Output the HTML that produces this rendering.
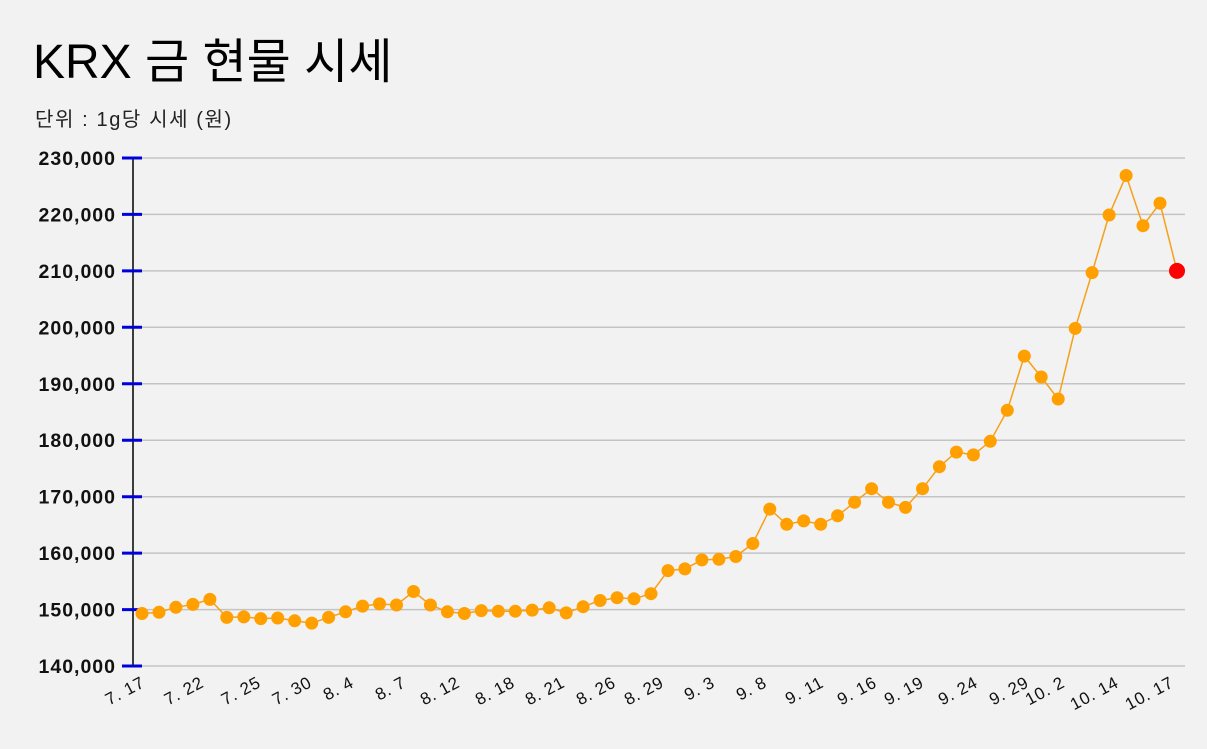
<!DOCTYPE html>
<html><head><meta charset="utf-8"><style>
html,body{margin:0;padding:0;background:#f2f2f2;}
svg{display:block;}
text{font-family:"Liberation Sans","Noto Sans CJK KR",sans-serif;}
</style></head><body>
<svg width="1207" height="749" xmlns="http://www.w3.org/2000/svg">
<rect width="1207" height="749" fill="#f2f2f2"/>
<text x="33" y="78" font-size="48" fill="#000">KRX 금 현물 시세</text>
<text x="35" y="126" font-size="20" letter-spacing="1.6" fill="#222">단위 : 1g당 시세 (원)</text>
<g stroke="#c4c4c4" stroke-width="1.5">
<line x1="133" x2="1185" y1="158" y2="158"/><line x1="133" x2="1185" y1="214.4" y2="214.4"/>
<line x1="133" x2="1185" y1="270.9" y2="270.9"/><line x1="133" x2="1185" y1="327.3" y2="327.3"/>
<line x1="133" x2="1185" y1="383.8" y2="383.8"/><line x1="133" x2="1185" y1="440.2" y2="440.2"/>
<line x1="133" x2="1185" y1="496.7" y2="496.7"/><line x1="133" x2="1185" y1="553.1" y2="553.1"/>
<line x1="133" x2="1185" y1="609.6" y2="609.6"/><line x1="133" x2="1185" y1="666" y2="666"/>
</g>
<line x1="133" x2="133" y1="158" y2="666" stroke="#000" stroke-width="1.5"/>
<g stroke="#0000dd" stroke-width="3">
<line x1="122" x2="142" y1="158" y2="158"/><line x1="122" x2="142" y1="214.4" y2="214.4"/>
<line x1="122" x2="142" y1="270.9" y2="270.9"/><line x1="122" x2="142" y1="327.3" y2="327.3"/>
<line x1="122" x2="142" y1="383.8" y2="383.8"/><line x1="122" x2="142" y1="440.2" y2="440.2"/>
<line x1="122" x2="142" y1="496.7" y2="496.7"/><line x1="122" x2="142" y1="553.1" y2="553.1"/>
<line x1="122" x2="142" y1="609.6" y2="609.6"/><line x1="122" x2="142" y1="666" y2="666"/>
</g>
<g font-size="19.5" font-weight="bold" text-anchor="end" fill="#111" letter-spacing="1">
<text x="116" y="165">230,000</text><text x="116" y="221.4">220,000</text>
<text x="116" y="277.9">210,000</text><text x="116" y="334.3">200,000</text>
<text x="116" y="390.8">190,000</text><text x="116" y="447.2">180,000</text>
<text x="116" y="503.7">170,000</text><text x="116" y="560.1">160,000</text>
<text x="116" y="616.6">150,000</text><text x="116" y="673">140,000</text>
</g>
<g font-size="17" text-anchor="end" fill="#111" letter-spacing="0.8">
<text transform="translate(146,686) rotate(-28)">7. 17</text>
<text transform="translate(205,686) rotate(-28)">7. 22</text>
<text transform="translate(262,686) rotate(-28)">7. 25</text>
<text transform="translate(313,686) rotate(-28)">7. 30</text>
<text transform="translate(355,686) rotate(-28)">8. 4</text>
<text transform="translate(407,686) rotate(-28)">8. 7</text>
<text transform="translate(461,686) rotate(-28)">8. 12</text>
<text transform="translate(516,686) rotate(-28)">8. 18</text>
<text transform="translate(566,686) rotate(-28)">8. 21</text>
<text transform="translate(617,686) rotate(-28)">8. 26</text>
<text transform="translate(665,686) rotate(-28)">8. 29</text>
<text transform="translate(716,686) rotate(-28)">9. 3</text>
<text transform="translate(768,686) rotate(-28)">9. 8</text>
<text transform="translate(825,686) rotate(-28)">9. 11</text>
<text transform="translate(878,686) rotate(-28)">9. 16</text>
<text transform="translate(925,686) rotate(-28)">9. 19</text>
<text transform="translate(979,686) rotate(-28)">9. 24</text>
<text transform="translate(1030,686) rotate(-28)">9. 29</text>
<text transform="translate(1066,686) rotate(-28)">10. 2</text>
<text transform="translate(1120,686) rotate(-28)">10. 14</text>
<text transform="translate(1175,686) rotate(-28)">10. 17</text>
</g>
<polyline fill="none" stroke="#f5a01a" stroke-width="1.5" points="142,613.5 159,612.3 175.9,607.3 192.9,604.4 209.9,599.4 226.8,617.4 243.8,616.9 260.8,618.6 277.7,618 294.7,620.8 311.7,623.1 328.6,617.4 345.6,611.8 362.6,606.1 379.5,603.9 396.5,605 413.5,591.5 430.4,605 447.4,611.8 464.4,613.5 481.3,610.6 498.3,611.2 515.3,611.2 532.2,610.1 549.2,607.8 566.2,612.9 583.1,606.7 600.1,600.5 617.1,597.7 634,598.8 651,593.7 668,570.6 684.9,568.9 701.9,559.9 718.9,559.3 735.8,556.5 752.8,543.5 769.8,509.1 786.7,524.3 803.7,520.9 820.7,524.3 837.6,515.8 854.6,502.3 871.6,488.7 888.5,502.3 905.5,507.4 922.5,488.7 939.4,466.7 956.4,452.1 973.4,454.9 990.3,441.3 1007.3,410.3 1024.3,356.1 1041.2,377 1058.2,399 1075.2,328.4 1092.1,272.6 1109.1,215 1126.1,175.5 1143,225.7 1160,203.2 1177,270.9"/>
<g fill="#ff9f00">
<circle cx="142" cy="613.5" r="6.5"/><circle cx="159" cy="612.3" r="6.5"/><circle cx="175.9" cy="607.3" r="6.5"/><circle cx="192.9" cy="604.4" r="6.5"/><circle cx="209.9" cy="599.4" r="6.5"/><circle cx="226.8" cy="617.4" r="6.5"/><circle cx="243.8" cy="616.9" r="6.5"/><circle cx="260.8" cy="618.6" r="6.5"/><circle cx="277.7" cy="618" r="6.5"/><circle cx="294.7" cy="620.8" r="6.5"/><circle cx="311.7" cy="623.1" r="6.5"/><circle cx="328.6" cy="617.4" r="6.5"/><circle cx="345.6" cy="611.8" r="6.5"/><circle cx="362.6" cy="606.1" r="6.5"/><circle cx="379.5" cy="603.9" r="6.5"/><circle cx="396.5" cy="605" r="6.5"/><circle cx="413.5" cy="591.5" r="6.5"/><circle cx="430.4" cy="605" r="6.5"/><circle cx="447.4" cy="611.8" r="6.5"/><circle cx="464.4" cy="613.5" r="6.5"/><circle cx="481.3" cy="610.6" r="6.5"/><circle cx="498.3" cy="611.2" r="6.5"/><circle cx="515.3" cy="611.2" r="6.5"/><circle cx="532.2" cy="610.1" r="6.5"/><circle cx="549.2" cy="607.8" r="6.5"/><circle cx="566.2" cy="612.9" r="6.5"/><circle cx="583.1" cy="606.7" r="6.5"/><circle cx="600.1" cy="600.5" r="6.5"/><circle cx="617.1" cy="597.7" r="6.5"/><circle cx="634" cy="598.8" r="6.5"/><circle cx="651" cy="593.7" r="6.5"/><circle cx="668" cy="570.6" r="6.5"/><circle cx="684.9" cy="568.9" r="6.5"/><circle cx="701.9" cy="559.9" r="6.5"/><circle cx="718.9" cy="559.3" r="6.5"/><circle cx="735.8" cy="556.5" r="6.5"/><circle cx="752.8" cy="543.5" r="6.5"/><circle cx="769.8" cy="509.1" r="6.5"/><circle cx="786.7" cy="524.3" r="6.5"/><circle cx="803.7" cy="520.9" r="6.5"/><circle cx="820.7" cy="524.3" r="6.5"/><circle cx="837.6" cy="515.8" r="6.5"/><circle cx="854.6" cy="502.3" r="6.5"/><circle cx="871.6" cy="488.7" r="6.5"/><circle cx="888.5" cy="502.3" r="6.5"/><circle cx="905.5" cy="507.4" r="6.5"/><circle cx="922.5" cy="488.7" r="6.5"/><circle cx="939.4" cy="466.7" r="6.5"/><circle cx="956.4" cy="452.1" r="6.5"/><circle cx="973.4" cy="454.9" r="6.5"/><circle cx="990.3" cy="441.3" r="6.5"/><circle cx="1007.3" cy="410.3" r="6.5"/><circle cx="1024.3" cy="356.1" r="6.5"/><circle cx="1041.2" cy="377" r="6.5"/><circle cx="1058.2" cy="399" r="6.5"/><circle cx="1075.2" cy="328.4" r="6.5"/><circle cx="1092.1" cy="272.6" r="6.5"/><circle cx="1109.1" cy="215" r="6.5"/><circle cx="1126.1" cy="175.5" r="6.5"/><circle cx="1143" cy="225.7" r="6.5"/><circle cx="1160" cy="203.2" r="6.5"/>
</g>
<circle cx="1177" cy="270.9" r="8" fill="#ff0000"/>
</svg>
</body></html>
